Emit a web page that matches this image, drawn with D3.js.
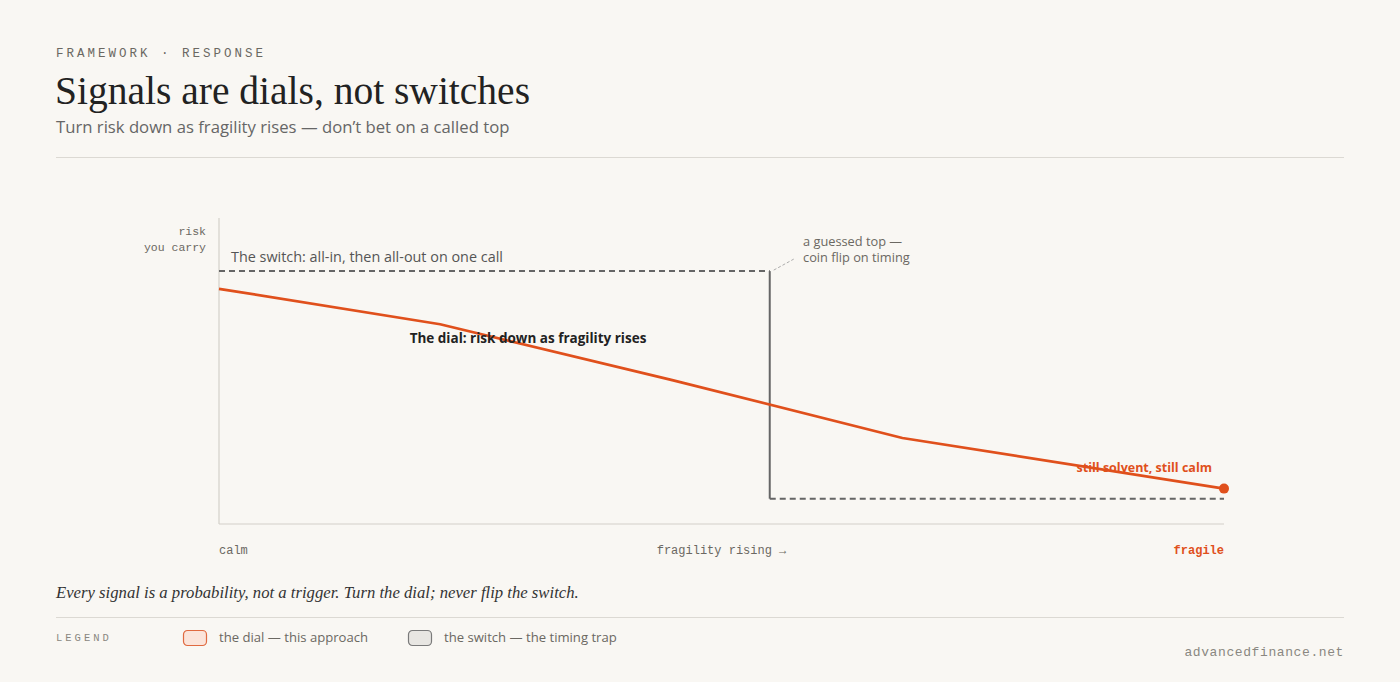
<!DOCTYPE html>
<html>
<head>
<meta charset="utf-8">
<script src="https://cdn.jsdelivr.net/npm/d3@7"></script>
<style>
  body { margin: 0; background: #f9f7f3; }
  svg { display: block; }
  .mono { font-family: "Liberation Mono", "DejaVu Sans Mono", monospace; }
  .sans { font-family: "Open Sans", "Noto Sans", sans-serif; }
  .serif { font-family: "Liberation Serif", "DejaVu Serif", serif; }
</style>
</head>
<body>
<div id="chart-area"></div>
<script>
// fragility (0 = calm, 1 = fragile) vs risk carried (0-100)
var dialX = [0, 0.22, 0.45, 0.68, 1];
var dialY = [93, 79, 57, 34, 14];

var switchX = [0, 0.548, 0.548, 1];
var switchY = [100, 100, 10, 10];

var xLabels = ["calm", "fragility rising \u2192", "fragile"];
var yLabel = ["risk", "you carry"];

var W = 1400, H = 682;
var orange = "#e0501c", grey = "#666";

var svg = d3.select("#chart-area")
    .append("svg")
    .attr("width", W)
    .attr("height", H);

svg.append("rect").attr("width", W).attr("height", H).attr("fill", "#f9f7f3");

// Header
svg.append("text")
    .attr("class", "mono")
    .attr("x", 56).attr("y", 57)
    .attr("font-size", 12.5)
    .attr("letter-spacing", 3)
    .attr("fill", "#6b6862")
    .text("FRAMEWORK \u00b7 RESPONSE");

svg.append("text")
    .attr("class", "serif")
    .attr("x", 55).attr("y", 104)
    .attr("font-size", 39.5)
    .attr("fill", "#222")
    .text("Signals are dials, not switches");

svg.append("text")
    .attr("class", "sans")
    .attr("x", 56).attr("y", 133)
    .attr("font-size", 16.7)
    .attr("fill", "#666")
    .text("Turn risk down as fragility rises \u2014 don\u2019t bet on a called top");

svg.append("line")
    .attr("x1", 56).attr("x2", 1344)
    .attr("y1", 157.5).attr("y2", 157.5)
    .attr("stroke", "#dcd9d3");

// Plot
var x = d3.scaleLinear().domain([0, 1]).range([219, 1224]);
var y = d3.scaleLinear().domain([0, 121]).range([524, 218]);

var g = svg.append("g");

g.append("line")
    .attr("x1", x(0)).attr("x2", x(0))
    .attr("y1", y(0)).attr("y2", y(121))
    .attr("stroke", "#d3d0ca").attr("stroke-width", 1.2);

g.append("line")
    .attr("x1", x(0)).attr("x2", x(1))
    .attr("y1", y(0)).attr("y2", y(0))
    .attr("stroke", "#d3d0ca").attr("stroke-width", 1.2);

// y label
g.selectAll(".ylab")
    .data(yLabel)
    .enter().append("text")
    .attr("class", "mono ylab")
    .attr("x", x(0) - 13)
    .attr("y", (d, i) => 235 + i * 16)
    .attr("text-anchor", "end")
    .attr("font-size", 11.5)
    .attr("fill", "#6b6862")
    .text(d => d);

// x labels
var xPos = [0, 0.5, 1];
var xAnchor = ["start", "middle", "end"];
g.selectAll(".xlab")
    .data(xLabels)
    .enter().append("text")
    .attr("class", "mono xlab")
    .attr("x", (d, i) => x(xPos[i]))
    .attr("y", 554)
    .attr("text-anchor", (d, i) => xAnchor[i])
    .attr("font-size", 12)
    .attr("font-weight", (d, i) => i == 2 ? "bold" : "normal")
    .attr("fill", (d, i) => i == 2 ? orange : "#6b6862")
    .text(d => d);

// The switch
var sw = switchX.map((d, i) => [d, switchY[i]]);
var lineGen = d3.line().x(d => x(d[0])).y(d => y(d[1]));

g.append("path")
    .attr("d", lineGen(sw.slice(0, 2)))
    .attr("fill", "none").attr("stroke", grey)
    .attr("stroke-width", 2).attr("stroke-dasharray", "6,4");

g.append("path")
    .attr("d", lineGen(sw.slice(1, 3)))
    .attr("fill", "none").attr("stroke", grey)
    .attr("stroke-width", 2);

g.append("path")
    .attr("d", lineGen(sw.slice(2, 4)))
    .attr("fill", "none").attr("stroke", grey)
    .attr("stroke-width", 2).attr("stroke-dasharray", "6,4");

g.append("text")
    .attr("class", "sans")
    .attr("x", x(0) + 12).attr("y", 262)
    .attr("font-size", 14.4)
    .attr("fill", "#555")
    .text("The switch: all-in, then all-out on one call");

// guessed top annotation
g.append("line")
    .attr("x1", x(switchX[1]) + 4).attr("y1", y(100) - 1)
    .attr("x2", x(switchX[1]) + 24).attr("y2", y(100) - 12)
    .attr("stroke", "#999").attr("stroke-width", 0.8)
    .attr("stroke-dasharray", "3,2");

g.selectAll(".anno")
    .data(["a guessed top \u2014", "coin flip on timing"])
    .enter().append("text")
    .attr("class", "sans anno")
    .attr("x", 803)
    .attr("y", (d, i) => 246 + i * 16)
    .attr("font-size", 12.8)
    .attr("fill", "#6b6862")
    .text(d => d);

// The dial
var dial = dialX.map((d, i) => [d, dialY[i]]);

g.append("path")
    .attr("d", lineGen(dial))
    .attr("fill", "none")
    .attr("stroke", orange)
    .attr("stroke-width", 2.7)
    .attr("stroke-linejoin", "round");

g.append("circle")
    .attr("cx", x(dialX[dialX.length - 1]))
    .attr("cy", y(dialY[dialY.length - 1]))
    .attr("r", 5)
    .attr("fill", orange);

g.append("text")
    .attr("class", "sans")
    .attr("x", 528).attr("y", 343)
    .attr("text-anchor", "middle")
    .attr("font-size", 13.5)
    .attr("font-weight", "bold")
    .attr("fill", "#222")
    .text("The dial: risk down as fragility rises");

g.append("text")
    .attr("class", "sans")
    .attr("x", 1212).attr("y", 472)
    .attr("text-anchor", "end")
    .attr("font-size", 12.5)
    .attr("font-weight", "bold")
    .attr("fill", orange)
    .text("still solvent, still calm");

// Footer
svg.append("text")
    .attr("class", "serif")
    .attr("x", 56).attr("y", 598)
    .attr("font-size", 16.7)
    .attr("font-style", "italic")
    .attr("fill", "#333")
    .text("Every signal is a probability, not a trigger. Turn the dial; never flip the switch.");

svg.append("line")
    .attr("x1", 56).attr("x2", 1344)
    .attr("y1", 617.5).attr("y2", 617.5)
    .attr("stroke", "#dcd9d3");

svg.append("text")
    .attr("class", "mono")
    .attr("x", 56).attr("y", 641)
    .attr("font-size", 10.5)
    .attr("letter-spacing", 3)
    .attr("fill", "#8a8781")
    .text("LEGEND");

var legend = [
    { label: "the dial \u2014 this approach", fill: "#fbe4da", stroke: "#e06a40", x: 183 },
    { label: "the switch \u2014 the timing trap", fill: "#e8e6e2", stroke: "#7a7a7a", x: 408 }
];

var lg = svg.selectAll(".legend")
    .data(legend)
    .enter().append("g")
    .attr("class", "legend")
    .attr("transform", d => "translate(" + d.x + ",630)");

lg.append("rect")
    .attr("x", 0.5).attr("y", 0.5)
    .attr("width", 23).attr("height", 15)
    .attr("rx", 4)
    .attr("fill", d => d.fill)
    .attr("stroke", d => d.stroke)
    .attr("stroke-width", 1.2);

lg.append("text")
    .attr("class", "sans")
    .attr("x", 36).attr("y", 12)
    .attr("font-size", 13.1)
    .attr("fill", "#6b6862")
    .text(d => d.label);

svg.append("text")
    .attr("class", "mono")
    .attr("x", 1344).attr("y", 656)
    .attr("text-anchor", "end")
    .attr("font-size", 13)
    .attr("letter-spacing", 0.6)
    .attr("fill", "#8a8781")
    .text("advancedfinance.net");
</script>
</body>
</html>
